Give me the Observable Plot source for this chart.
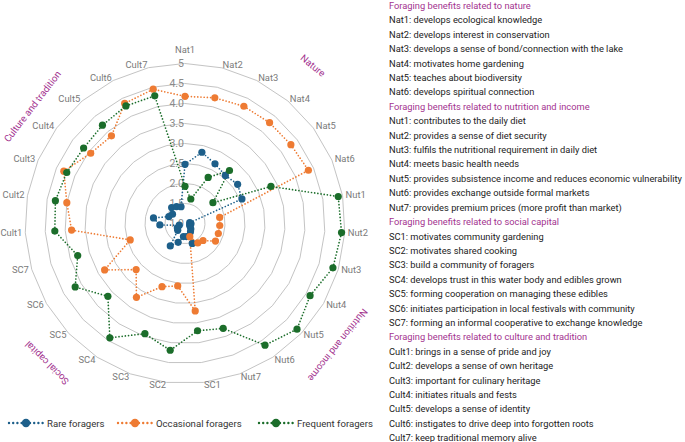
<!DOCTYPE html>
<html><head><meta charset="utf-8">
<script src="https://cdn.jsdelivr.net/npm/d3@7"></script>
<script src="https://cdn.jsdelivr.net/npm/@observablehq/plot@0.6"></script>
<style>
body{margin:0;background:#fff;font-family:Roboto,"Noto Sans",sans-serif;}
#wrap{position:relative;width:685px;height:442px;overflow:hidden;background:#fff;}
#chart{position:absolute;left:0;top:0;}
#legend{position:absolute;left:0;top:416px;width:385px;height:16px;font-size:9.6px;color:#333;}
#legend .item{position:absolute;top:0;display:flex;align-items:center;height:14px;}
#legend svg{margin-right:2px;}
#notes{position:absolute;left:389px;top:-1px;font-size:9.3px;line-height:14.4px;color:#222;white-space:nowrap;}
#notes .hdr{color:#a3338f;}
</style></head>
<body><div id="wrap"><div id="chart"></div><div id="legend"></div><div id="notes"></div></div>
<script>
// ---- data ----
const axes = ["Nat1","Nat2","Nat3","Nat4","Nat5","Nat6",
  "Nut1","Nut2","Nut3","Nut4","Nut5","Nut6","Nut7",
  "SC1","SC2","SC3","SC4","SC5","SC6","SC7",
  "Cult1","Cult2","Cult3","Cult4","Cult5","Cult6","Cult7"];
const seriesNames = ["Rare foragers","Occasional foragers","Frequent foragers"];
const rare = [2.48,2.83,2.67,2.57,2.64,2.55,
  1.12,1.15,1.12,1.15,1.20,1.25,1.53,
  1.33,1.33,1.50,1.67,1.25,1.22,1.15,
  1.63,1.80,1.44,1.39,1.52,1.47,1.43];
const occasional = [4.18,4.23,4.28,4.29,4.30,4.36,
  1.88,1.87,1.87,1.88,1.62,1.58,1.35,
  3.20,2.57,2.68,3.21,2.68,3.32,2.43,
  3.84,4.00,4.30,3.94,3.86,4.36,4.45];
const frequent = [1.93,1.63,2.29,2.73,1.87,3.34,
  4.89,4.92,4.86,4.61,4.85,4.64,3.79,
  3.70,4.19,3.93,4.42,3.65,4.17,3.80,
  4.26,4.29,4.22,4.16,4.21,4.29,4.28];
const ringLevels = [1.5,2,2.5,3,3.5,4,4.5,5];
const tickValues = [1,1.5,2,2.5,3,3.5,4,4.5,5];
const tickLabels = ["1.0","1.5","2.0","2.5","3.0","3.5","4.0","4.5","5"];
const groupNames = ["Nature","Nutrition and income","Social capital","Culture and tradition"];
const groupHeaders = ["Foraging benefits related to nature","Foraging benefits related to nutrition and income",
  "Foraging benefits related to social capital","Foraging benefits related to culture and tradition"];
const descriptions = [
  "develops ecological knowledge","develops interest in conservation","develops a sense of bond/connection with the lake",
  "motivates home gardening","teaches about biodiversity","develops spiritual connection",
  "contributes to the daily diet","provides a sense of diet security","fulfils the nutritional requirement in daily diet",
  "meets basic health needs","provides subsistence income and reduces economic vulnerability",
  "provides exchange outside formal markets","provides premium prices (more profit than market)",
  "motivates community gardening","motivates shared cooking","build a community of foragers",
  "develops trust in this water body and edibles grown","forming cooperation on managing these edibles",
  "initiates participation in local festivals with community","forming an informal cooperative to exchange knowledge",
  "brings in a sense of pride and joy","develops a sense of own heritage","important for culinary heritage",
  "initiates rituals and fests","develops a sense of identity","instigates to drive deep into forgotten roots",
  "keep traditional memory alive"];
const groupSizes = [6,7,7,7];

// ---- layout ----
const colors = ["#1d5f8a","#ee7b33","#1b6d2a"];
const purple = "#a3338f";
const N = axes.length;
const rScale = v => (v - 1) / 4;           // value -> unit radius
const ang = k => k * 2 * Math.PI / N;       // clockwise from top
const px = (r, a) => r * Math.sin(a);
const py = (r, a) => r * Math.cos(a);
const cx = 184.5, cy = 223, R = 160;

const seriesVals = [rare, occasional, frequent];
const pts = seriesVals.map((vals, s) => vals.map((v, k) => ({
  series: seriesNames[s], axis: axes[k], value: v,
  x: px(rScale(v), ang(k)), y: py(rScale(v), ang(k))
})));

const rings = ringLevels.flatMap(l => axes.map((a, k) => ({level: l, x: px(rScale(l), ang(k)), y: py(rScale(l), ang(k))})));

const labR = 163 / R;
const axisLab = axes.map((a, k) => {
  const s = Math.sin(ang(k));
  const mid = Math.abs(s) < 0.05;
  const r = mid ? 174 / R : labR;
  return {text: a, x: px(r, ang(k)), y: py(r, ang(k)), anchor: mid ? "middle" : (s > 0 ? "start" : "end")};
});

const groupAt = [[39, 203], [128.5, 195], [224.7, 196], [307.5, 192]]; // [deg, px radius]
const groupLab = groupNames.map((g, i) => {
  const a = groupAt[i][0] * Math.PI / 180, r = groupAt[i][1] / R;
  return {text: g, x: px(r, a), y: py(r, a), rotate: groupAt[i][0] > 180 ? groupAt[i][0] - 360 : groupAt[i][0]};
});

const ticks = tickValues.map((v, i) => ({text: tickLabels[i], x: 0, y: rScale(v)}));

const marks = [
  Plot.line(rings, {x: "x", y: "y", z: "level", curve: "linear-closed", stroke: "#c4c4c4", strokeWidth: 1}),
  Plot.text(ticks, {x: "x", y: "y", text: "text", fill: "#8a8a8a", fontSize: 10.5, textAnchor: "end", dx: -1})
];
for (let s = 0; s < 3; s++) {
  marks.push(Plot.line(pts[s], {x: "x", y: "y", curve: "linear-closed", stroke: colors[s], strokeWidth: 1.7, strokeDasharray: "0,3.2", strokeLinecap: "round"}));
}
for (let s = 0; s < 3; s++) {
  marks.push(Plot.dot(pts[s], {x: "x", y: "y", r: 3.6, fill: colors[s], stroke: "none"}));
}
for (const anc of ["start", "middle", "end"]) {
  marks.push(Plot.text(axisLab.filter(d => d.anchor === anc), {x: "x", y: "y", text: "text", textAnchor: anc, fill: "#7a7a7a", fontSize: 9.4}));
}
marks.push(Plot.text(groupLab, {x: "x", y: "y", text: "text", rotate: "rotate", fill: purple, fontSize: 9.6}));

const chart = Plot.plot({
  width: 380, height: 412,
  x: {domain: [-1, 1], range: [cx - R, cx + R], axis: null},
  y: {domain: [-1, 1], range: [cy + R, cy - R], axis: null},
  style: {fontFamily: "Roboto, 'Noto Sans', sans-serif", background: "transparent", overflow: "visible"},
  marks
});
document.getElementById("chart").append(chart);

// legend
const leg = document.getElementById("legend");
const legLeft = [7, 116, 257];
seriesNames.forEach((n, i) => {
  const it = document.createElement("div"); it.className = "item"; it.style.left = legLeft[i] + "px";
  it.innerHTML = `<svg width="38" height="12"><line x1="2" y1="6" x2="37" y2="6" stroke="${colors[i]}" stroke-width="2.4" stroke-dasharray="0,4.2" stroke-linecap="round"/><circle cx="19" cy="6" r="4.2" fill="${colors[i]}"/></svg><span>${n}</span>`;
  leg.append(it);
});

// notes
const notes = document.getElementById("notes");
let k = 0;
groupHeaders.forEach((h, g) => {
  const d = document.createElement("div"); d.className = "hdr"; d.textContent = h; notes.append(d);
  for (let j = 0; j < groupSizes[g]; j++, k++) {
    const e = document.createElement("div"); e.textContent = axes[k] + ": " + descriptions[k]; notes.append(e);
  }
});
</script>
</body></html>
